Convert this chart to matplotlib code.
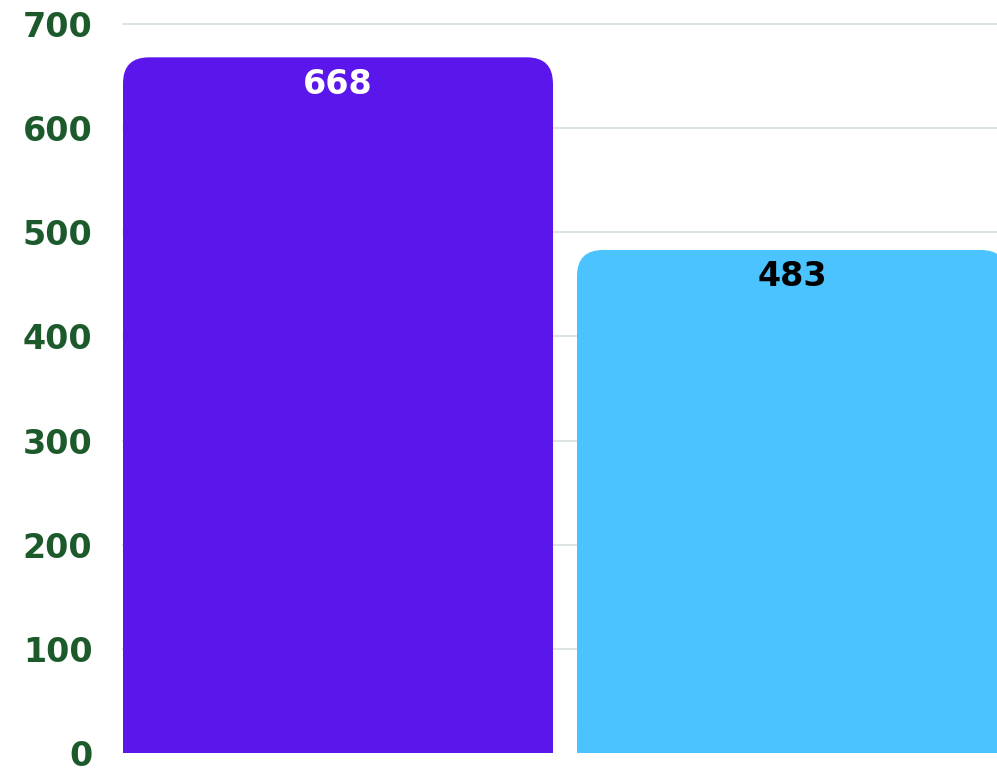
import matplotlib.pyplot as plt
from matplotlib.patches import FancyBboxPatch, Rectangle

# donnees
categories = ['A', 'B']
valeurs = [668, 483]
couleurs_barres = ['#5b16ec', '#4ac3fe']
couleurs_textes = ['white', 'black']
ticks_y = [0, 100, 200, 300, 400, 500, 600, 700]

W, H = 997, 769
fig = plt.figure(figsize=(W / 100, H / 100), dpi=100)
ax = fig.add_axes([123 / W, 1 - 753 / H, 1 - 123 / W + 0.003, (753 - 24) / H])

largeur = 0.947
x_min, x_max = -largeur / 2, -largeur / 2 + (W - 123 + 3) / 454
ax.set_xlim(x_min, x_max)
ax.set_ylim(0, 700)

# conversion pixel -> unites
ax_w_px = ax.get_position().width * W
ax_h_px = ax.get_position().height * H
ux = (x_max - x_min) / ax_w_px
uy = 700 / ax_h_px
rayon_px = 26
rx = rayon_px * ux
ry = rayon_px * uy

for i, v in enumerate(valeurs):
    x0 = i - largeur / 2
    patch = FancyBboxPatch((x0, 0), largeur, v,
                           boxstyle=f"round,pad=0,rounding_size={rx}",
                           mutation_aspect=uy / ux,
                           facecolor=couleurs_barres[i], edgecolor='none', zorder=3)
    ax.add_patch(patch)
    ax.add_patch(Rectangle((x0, 0), largeur, v - ry, facecolor=couleurs_barres[i],
                           edgecolor='none', zorder=3))
    ax.text(i, v - 27 * uy, str(v), ha='center', va='center', color=couleurs_textes[i],
            fontsize=24, fontweight='bold', family='DejaVu Sans', zorder=4)

for t in ticks_y[1:]:
    ax.axhline(t, color='#d6e0da', linewidth=1.2, zorder=1, clip_on=False)

ax.set_yticks(ticks_y)
ax.set_yticklabels([str(t) for t in ticks_y], color='#1c5a2c', fontsize=24,
                   fontweight='bold', family='DejaVu Sans')
ax.tick_params(axis='y', length=0, pad=22)
ax.set_xticks([])
for s in ax.spines.values():
    s.set_visible(False)

fig.savefig('out.png', dpi=100, facecolor='white')
